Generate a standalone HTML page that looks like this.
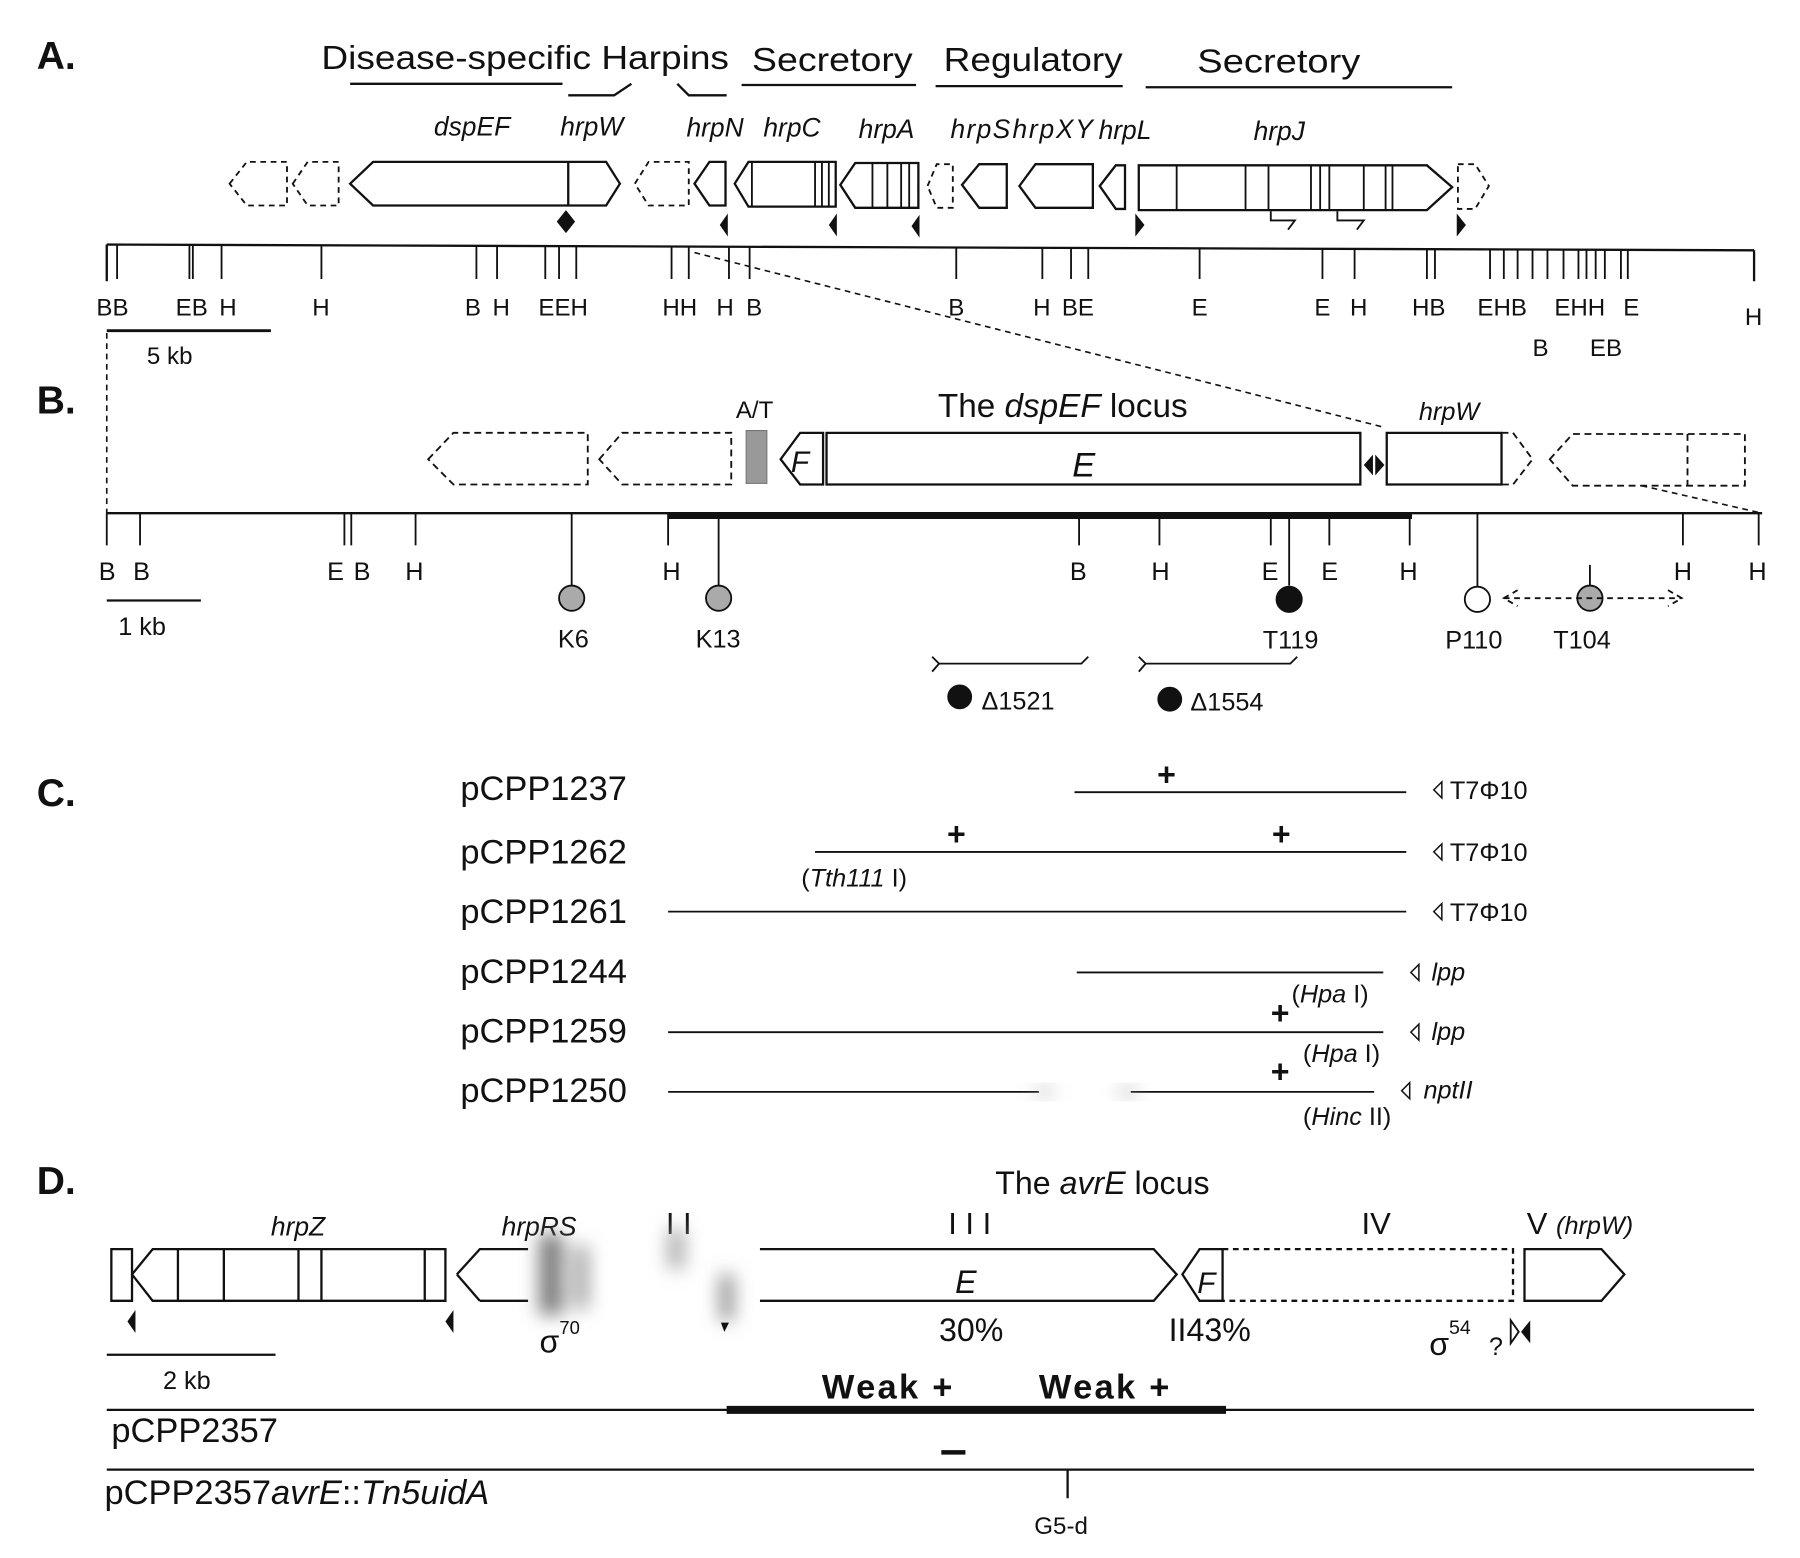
<!DOCTYPE html>
<html><head><meta charset="utf-8"><style>
html,body{margin:0;padding:0;background:#fff}
svg{display:block}
text{font-family:"Liberation Sans",sans-serif;fill:#111}
.it{font-style:italic}
</style></head><body>
<svg width="1800" height="1558" viewBox="0 0 1568 1357" preserveAspectRatio="none" xmlns="http://www.w3.org/2000/svg">
<defs><filter id="bl" x="-50%" y="-50%" width="200%" height="200%"><feGaussianBlur stdDeviation="8"/></filter></defs>
<g stroke="#111" fill="none" stroke-width="1.6">
<!-- Panel A -->
<text x="32" y="60" font-size="34" font-weight="bold" stroke="none">A.</text>
<g stroke="none" font-size="29">
<text x="280" y="60" textLength="355" lengthAdjust="spacingAndGlyphs">Disease-specific Harpins</text>
<text x="655" y="62" textLength="140" lengthAdjust="spacingAndGlyphs">Secretory</text>
<text x="822" y="62" textLength="156" lengthAdjust="spacingAndGlyphs">Regulatory</text>
<text x="1043" y="63" textLength="142" lengthAdjust="spacingAndGlyphs">Secretory</text>
</g>
<path d="M305 73H490M495 83H535L550 73M590 73L600 83H633M646 74H798M815 75H978M998 76H1265" stroke-width="2"/>
<g stroke="none" font-size="23" class="it">
<text class="it" x="378" y="118">dspEF</text><text class="it" x="488" y="118">hrpW</text>
<text class="it" x="598" y="119">hrpN</text><text class="it" x="665" y="119">hrpC</text>
<text class="it" x="748" y="120">hrpA</text><text class="it" x="828" y="120" textLength="52">hrpS</text>
<text class="it" x="882" y="120" textLength="70">hrpXY</text><text class="it" x="957" y="121">hrpL</text>
<text class="it" x="1092" y="122">hrpJ</text>
</g>
<g>
<path d="M200 160L215 141H250V179H215Z M255 160L268 141H295V179H268Z M553 160L565 141H600V179H565Z M808 162L816 143H830V181H816Z M1270 143H1285L1297 162L1285 182H1270Z" stroke-dasharray="5,4"/>
<path d="M305 160L325 141H495V179H325Z M495 141H528L540 160L528 179H495Z M605 160L618 141H632V179H618Z M640 160L652 141H728V180H652Z M732 161L745 142H800V181H745Z M838 161L853 143H877V181H853Z M888 162L902 143H952V181H902Z M958 162L972 144H980V182H972Z M992 144H1243L1265 163L1243 183H992Z" stroke-width="2"/>
<path d="M655 141V180M710 141V180M716 141V180M722 141V180M760 142V181M773 142V181M785 142V181M792 142V181M1025 144V183M1085 144V183M1105 144V183M1142 144V183M1150 144V183M1158 144V183M1188 144V183M1207 144V183M1213 144V183"/>
<path d="M1107 184V192H1128L1122 200M1165 184V192H1188L1182 200"/>
</g>
<g fill="#111" stroke="none">
<path d="M493 183L501 193L493 203L485 193Z"/>
<path d="M627 196L634 186V206Z M722 196L729 186V206Z M794 197L801 187V207Z M989 186L997 196L989 206Z M1269 186L1277 196L1269 206Z"/>
</g>
<path d="M93 213L1528 218M93 213V245M1528 218V245" stroke-width="2"/>
<g id="ticksA"></g>
<g id="labelsA" stroke="none" font-size="21"></g>
<path d="M93 288H236" stroke-width="2.5"/>
<text x="128" y="317" font-size="21" stroke="none">5 kb</text>
<path d="M605 220L1205 372M1430 423L1535 447M93 290V447" stroke-dasharray="5,4" stroke-width="1.4"/>

<!-- Panel B -->
<text x="32" y="360" font-size="34" font-weight="bold" stroke="none">B.</text>
<text x="641" y="364" font-size="21" stroke="none">A/T</text>
<rect x="650" y="375" width="18" height="46" fill="#999" stroke="#777" stroke-width="1"/>
<text x="817" y="363" font-size="29" stroke="none">The <tspan class="it">dspEF</tspan> locus</text>
<text class="it" x="1236" y="366" font-size="22" stroke="none">hrpW</text>
<path d="M373 400L395 377H512V422H395Z M522 400L542 377H637V422H542Z M1308 377H1318L1335 400L1318 422H1308 M1350 400L1370 378H1520V423H1370Z M1470 378V423" stroke-dasharray="6,4"/>
<path d="M680 400L697 377H717V422H697Z M720 377H1185V422H720Z M1208 377H1308V422H1208Z" stroke-width="2"/>
<path d="M1188 405L1196 396V414Z M1206 405L1198 396V414Z" fill="#111" stroke="none"/>
<text class="it" x="689" y="411" font-size="26" stroke="none">F</text>
<text class="it" x="934" y="415" font-size="30" stroke="none">E</text>
<path d="M93 447H1535" stroke-width="2"/>
<path d="M582 449H1230" stroke-width="6"/>
<g id="ticksB"></g>
<g id="labelsB" stroke="none" font-size="22"></g>
<path d="M93 523H175" stroke-width="2"/>
<text x="103" y="553" font-size="22" stroke="none">1 kb</text>
<g>
<path d="M498 447V510M626 447V510M1123 447V510M1287 447V511M1385 492V510"/>
<circle cx="498" cy="521" r="11" fill="#aaa"/><circle cx="626" cy="521" r="11" fill="#aaa"/>
<circle cx="1123" cy="522" r="11" fill="#111"/><circle cx="1287" cy="522" r="11" fill="#fff"/>
<circle cx="1385" cy="521" r="11" fill="#aaa"/>
<path d="M1310 521H1465M1322 514L1310 521L1322 528M1453 514L1465 521L1453 528" stroke-dasharray="5,4"/>
</g>
<g stroke="none" font-size="22">
<text x="486" y="564">K6</text><text x="606" y="564">K13</text><text x="1100" y="565">T119</text>
<text x="1259" y="565">P110</text><text x="1353" y="565">T104</text>
</g>
<path d="M812 585L818 578H942L948 572M992 585L998 578H1124L1130 572M818 578L812 572M998 578L992 572"/>
<circle cx="836" cy="607" r="10" fill="#111"/><circle cx="1019" cy="609" r="10" fill="#111"/>
<text x="855" y="618" font-size="22" stroke="none">Δ1521</text><text x="1037" y="619" font-size="22" stroke="none">Δ1554</text>

<!-- Panel C -->
<text x="32" y="702" font-size="34" font-weight="bold" stroke="none">C.</text>
<g stroke="none" font-size="30">
<text x="401" y="697">pCPP1237</text><text x="401" y="752">pCPP1262</text><text x="401" y="804">pCPP1261</text>
<text x="401" y="856">pCPP1244</text><text x="401" y="908">pCPP1259</text><text x="401" y="960">pCPP1250</text>
</g>
<path d="M936 690H1225M710 742H1225M582 794H1225M938 847H1205M582 899H1205M582 951H905M985 951H1197"/>
<g stroke="none" filter="url(#bl)" fill="#aaa"><ellipse cx="910" cy="951" rx="7" ry="4"/><ellipse cx="982" cy="951" rx="7" ry="4"/></g>
<g stroke="none" font-size="28" font-weight="bold">
<text x="1008" y="684">+</text><text x="825" y="736">+</text><text x="1108" y="736">+</text>
<text x="1107" y="892">+</text><text x="1107" y="943">+</text>
</g>
<g stroke="none" font-size="22">
<text x="698" y="772">(<tspan class="it">Tth111</tspan> I)</text>
<text x="1125" y="873">(<tspan class="it">Hpa</tspan> I)</text>
<text x="1135" y="925">(<tspan class="it">Hpa</tspan> I)</text>
<text x="1135" y="980">(<tspan class="it">Hinc</tspan> II)</text>
<text x="1263" y="696">T7Φ10</text><text x="1263" y="750">T7Φ10</text><text x="1263" y="802">T7Φ10</text>
<text class="it" x="1247" y="854">lpp</text><text class="it" x="1247" y="906">lpp</text><text class="it" x="1240" y="957">nptII</text>
</g>
<path d="M1256 681L1249 688L1256 695Z M1256 735L1249 742L1256 749Z M1256 787L1249 794L1256 801Z M1236 840L1229 847L1236 854Z M1236 892L1229 899L1236 906Z M1228 943L1221 950L1228 957Z" stroke-width="1.3"/>

<!-- Panel D -->
<text x="32" y="1040" font-size="34" font-weight="bold" stroke="none">D.</text>
<text x="867" y="1040" font-size="28" stroke="none">The <tspan class="it">avrE</tspan> locus</text>
<g stroke="none" font-size="27">
<text class="it" x="236" y="1076" font-size="23">hrpZ</text><text class="it" x="437" y="1076" font-size="23">hrpRS</text>
<text x="580" y="1075">I I</text><text x="826" y="1075">I I I</text><text x="1186" y="1075">IV</text>
<text x="1330" y="1075">V <tspan class="it" font-size="22">(hrpW)</tspan></text>
</g>
<path d="M97 1088H115V1133H97Z M115 1110L133 1088H388V1133H133Z M155 1088V1133M195 1088V1133M260 1088V1133M280 1088V1133M370 1088V1133 M398 1110L418 1088H460M418 1133H460M398 1110L418 1133 M662 1088H1005L1025 1110L1005 1133H662 M1030 1110L1045 1088H1065V1133H1045Z M1328 1088H1395L1415 1110L1395 1133H1328Z" stroke-width="2"/>
<path d="M1065 1088H1318V1133H1065" stroke-dasharray="5,4" stroke-width="2"/>
<g stroke="none" filter="url(#bl)" fill="#777">
<rect x="470" y="1075" width="20" height="70"/><rect x="500" y="1085" width="12" height="55" fill="#999"/><rect x="582" y="1070" width="14" height="35" fill="#aaa"/><rect x="628" y="1110" width="10" height="40"/>
</g>
<text class="it" x="832" y="1126" font-size="28" stroke="none">E</text>
<text class="it" x="1043" y="1126" font-size="26" stroke="none">F</text>
<path d="M111 1151L118 1141V1161Z M388 1151L395 1141V1161Z M628 1152L635 1152L631 1160Z" fill="#111" stroke="none"/>
<g stroke="none" font-size="28">
<text x="470" y="1178">σ<tspan font-size="16" dy="-16">70</tspan></text>
<text x="818" y="1168">30%</text><text x="1018" y="1168">II43%</text>
<text x="1245" y="1180">σ<tspan font-size="17" dy="-18">54</tspan></text><text x="1297" y="1180" font-size="22">?</text>
</g>
<path d="M1325 1160L1333 1150V1170Z" fill="#111" stroke="none"/><path d="M1323 1160L1316 1150V1170Z"/>
<path d="M93 1180H240" stroke-width="2"/>
<text x="142" y="1210" font-size="22" stroke="none">2 kb</text>
<text x="716" y="1218" font-size="30" font-weight="bold" stroke="none" letter-spacing="2">Weak +</text>
<text x="905" y="1218" font-size="30" font-weight="bold" stroke="none" letter-spacing="2">Weak +</text>
<path d="M93 1228H1528M93 1280H1528M930 1280V1305" stroke-width="2"/>
<path d="M633 1228H1068" stroke-width="7"/>
<path d="M820 1265H841" stroke-width="4"/>
<text x="97" y="1256" font-size="30" stroke="none">pCPP2357</text>
<text x="91" y="1310" font-size="30" stroke="none">pCPP2357<tspan class="it">avrE</tspan>::<tspan class="it">Tn5uidA</tspan></text>
<text x="901" y="1336" font-size="21" stroke="none">G5-d</text>
</g>
<script>
const ticksA=[93,102,165,168,193,280,415,433,475,487,502,585,600,635,653,833,908,933,948,1045,1152,1180,1243,1250,1298,1310,1322,1335,1348,1362,1375,1382,1390,1398,1412,1418];
const labelsA=["BB","EB","H","H","B","H","EEH","HH","H","B","B","H","BE","E","E","H","HB","EHB","EHH","E","H","B","EB"];
const labelXA=[84,153,191,272,405,429,469,577,624,650,826,900,925,1038,1145,1176,1230,1287,1354,1414,1520,1335,1385];
const labelYA=[275,275,275,275,275,275,275,275,275,275,275,275,275,275,275,275,275,275,275,275,283,310,310];
const ticksB=[93,122,300,306,362,582,940,1010,1107,1158,1228,1466,1532];
const labelsB=["B","B","E","B","H","H","B","H","E","E","H","H","H"];
const labelXB=[86,116,285,308,353,577,932,1003,1099,1151,1219,1458,1523];
const NS="http://www.w3.org/2000/svg";
function yA(x){return 213+(x-93)*5/1435;}
const gA=document.getElementById('ticksA');
ticksA.forEach(x=>{const l=document.createElementNS(NS,'line');


l.setAttribute('x1',x);l.setAttribute('x2',x);l.setAttribute('y1',yA(x));l.setAttribute('y2',243);gA.appendChild(l);});
const lA=document.getElementById('labelsA');
labelsA.forEach((t,i)=>{const e=document.createElementNS(NS,'text');


e.setAttribute('x',labelXA[i]);e.setAttribute('y',labelYA[i]);e.textContent=t;lA.appendChild(e);});
const gB=document.getElementById('ticksB');
ticksB.forEach(x=>{const l=document.createElementNS(NS,'line');


l.setAttribute('x1',x);l.setAttribute('x2',x);l.setAttribute('y1',447);l.setAttribute('y2',475);gB.appendChild(l);});
const lB=document.getElementById('labelsB');
labelsB.forEach((t,i)=>{const e=document.createElementNS(NS,'text');


e.setAttribute('x',labelXB[i]);e.setAttribute('y',505);e.textContent=t;lB.appendChild(e);});
</script>
</svg>
</body></html>
